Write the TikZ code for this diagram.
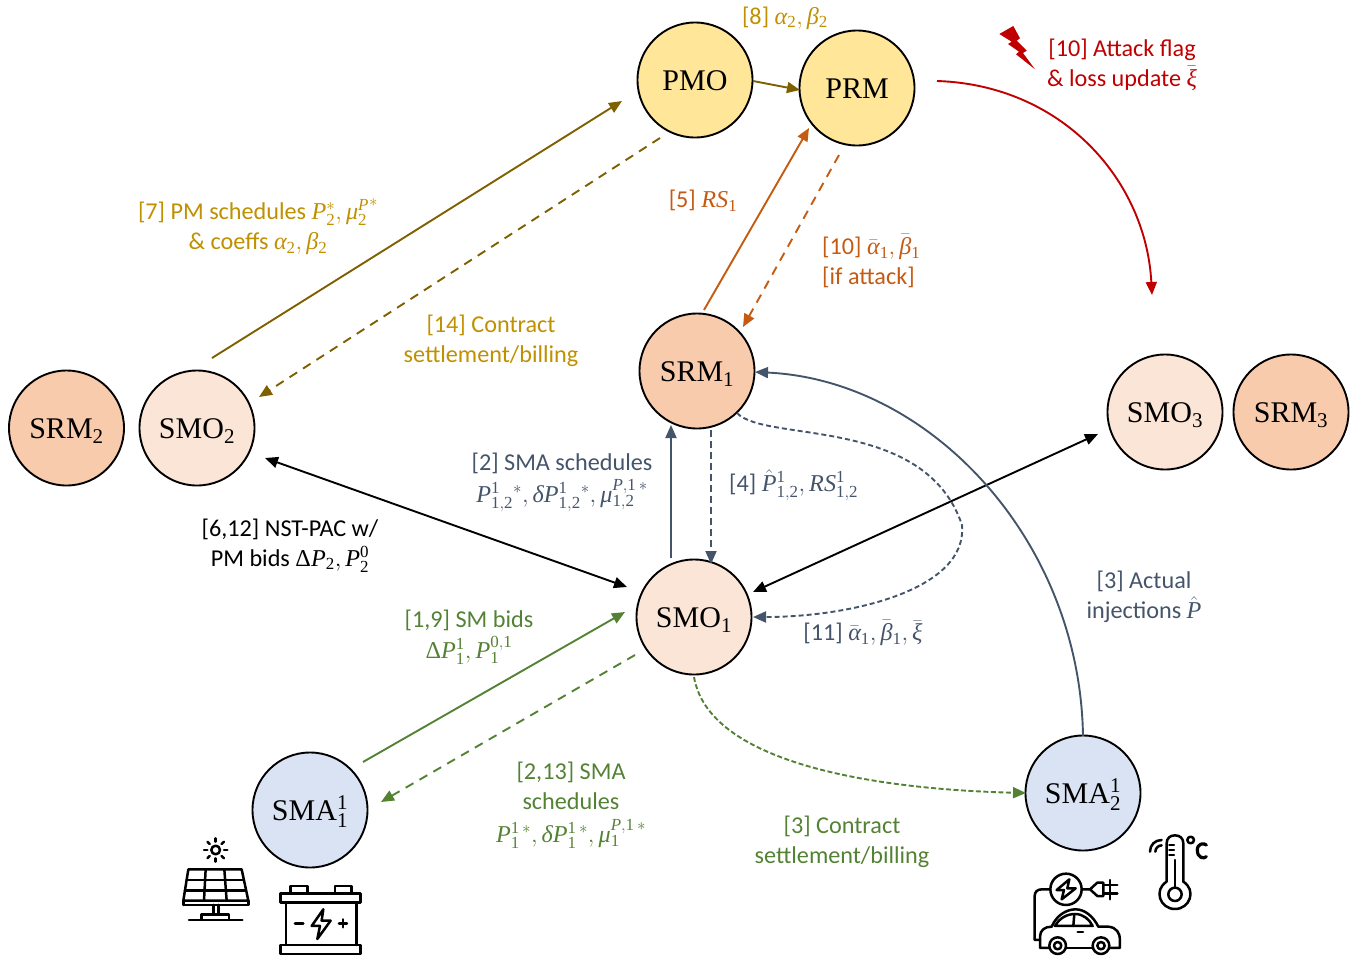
\RequirePackage{fix-cm}
\documentclass[tikz,border=0pt]{standalone}
\usepackage{fontspec}
\setmainfont{Carlito}
\newfontfamily\nodefont[NFSSFamily=lsf]{Liberation Serif}
\DeclareSymbolFont{lsi}{TU}{lsf}{m}{it}
\DeclareSymbolFont{lsr}{TU}{lsf}{m}{n}
\AtBeginDocument{%
  \Umathcode`P="7 \symlsi `P
  \Umathcode`R="7 \symlsi `R
  \Umathcode`S="7 \symlsi `S
  \Umathcode`0="0 \symlsr `0
  \Umathcode`1="0 \symlsr `1
  \Umathcode`2="0 \symlsr `2
  \Umathcode`3="0 \symlsr `3
  \Umathchardef\alpha="0 \symlsi "03B1
  \Umathchardef\beta="0 \symlsi "03B2
  \Umathchardef\delta="0 \symlsi "03B4
  \Umathchardef\mu="0 \symlsi "03BC
  \Umathchardef\xi="0 \symlsi "03BE
  \Umathchardef\Delta="0 \symlsr "0394
}
\usetikzlibrary{arrows.meta}
\definecolor{gold}{HTML}{BF9000}
\definecolor{brownline}{HTML}{7F6000}
\definecolor{orangeline}{HTML}{C55A11}
\definecolor{redline}{HTML}{C00000}
\definecolor{navyline}{HTML}{44546A}
\definecolor{greenline}{HTML}{548235}
\definecolor{pmfill}{HTML}{FFE699}
\definecolor{srfill}{HTML}{F8CBAD}
\definecolor{sofill}{HTML}{FBE5D6}
\definecolor{safill}{HTML}{DAE3F3}
\tikzset{
  x=1pt,y=-1pt,
  >={Triangle[length=13pt,width=11pt]},
  agent/.style={circle,draw=black,line width=1.9pt,minimum size=115pt,inner sep=0pt,text height=21pt,text depth=0pt,font=\nodefont\fontsize{30}{34}\selectfont},
  pm/.style={agent,fill=pmfill},
  sr/.style={agent,fill=srfill},
  so/.style={agent,fill=sofill},
  sa/.style={agent,fill=safill},
  lab/.style={align=center,inner sep=0pt,font=\fontsize{24.2}{30}\selectfont},
  labl/.style={lab,align=left,anchor=west},
  link/.style={line width=1.9pt},
  icon/.style={draw=black,line width=2.5pt,line join=round,line cap=round},
}
\newcommand{\off}[3]{([shift={(#2,#3)}]#1.center)}
\begin{document}
\begin{tikzpicture}
\useasboundingbox (0,0) rectangle (1361,959);
% nodes
\node[pm] (pmo) at (695,80) {PMO};
\node[pm] (prm) at (857,88) {PRM};
\node[sr] (srm1) at (697,371) {SRM$_1$};
\node[sr] (srm2) at (66.5,428) {SRM$_2$};
\node[so] (smo2) at (197,428) {SMO$_2$};
\node[so] (smo3) at (1165,412) {SMO$_3$};
\node[sr] (srm3) at (1291,412) {SRM$_3$};
\node[so] (smo1) at (694,617) {SMO$_1$};
\node[sa] (sma1) at (310,810) {SMA$_1^1$};
\node[sa] (sma2) at (1083,793) {SMA$_2^1$};
% connectors
\draw[link,brownline,->] \off{smo2}{15}{-70} -- \off{pmo}{-73}{21};
\draw[link,brownline,dashed,dash pattern=on 9pt off 7pt,->] \off{pmo}{-35}{58} -- \off{smo2}{62}{-31};
\draw[link,brownline,->] \off{pmo}{58}{1} -- \off{prm}{-57}{2};
\draw[link,orangeline,->] \off{srm1}{7}{-61} -- \off{prm}{-48}{40};
\draw[link,orangeline,dashed,dash pattern=on 9pt off 7pt,->] \off{prm}{-18}{67} -- \off{srm1}{46}{-44};
\draw[link,redline,->] \off{prm}{80}{-7} .. controls +(125,4) and +(-6,-115) .. (1152,295);
\draw[link,black,<->] \off{smo2}{68}{30} -- \off{smo1}{-67}{-30};
\draw[link,black,<->] \off{smo3}{-67}{22} -- \off{smo1}{59}{-25};
\draw[link,greenline,->] \off{sma1}{53}{-48} -- \off{smo1}{-69}{-5};
\draw[link,greenline,dashed,dash pattern=on 9pt off 7pt,->] \off{smo1}{-59}{38} -- \off{sma1}{71}{-8};
\draw[link,navyline,->] \off{smo1}{-23}{-59} -- \off{srm1}{-26}{54};
\draw[link,navyline,dashed,dash pattern=on 7pt off 4pt,->] \off{srm1}{14}{59} -- \off{smo1}{17}{-53};
\draw[link,navyline,dashed,dash pattern=on 5pt off 3pt,->] \off{srm1}{40}{42} .. controls +(28,30) and (925,415) .. (962,525) .. controls (968,590) and (850,617) .. \off{smo1}{59}{0};
\draw[link,navyline,->] \off{sma2}{0}{-57} .. controls (1080,540) and (930,380) .. \off{srm1}{58}{1};
\draw[link,greenline,dashed,dash pattern=on 5pt off 2.5pt,->] \off{smo1}{0}{60} .. controls +(16,93) and (900,790) .. \off{sma2}{-57}{0};
% lightning
\path[fill=redline] (999.3,34) -- (1013.3,26) -- (1020,38.3) -- (1016.7,40.7) -- (1026.7,50.7) -- (1023,53) -- (1035,69.3) -- (1016,54.3) -- (1019,51.7) -- (1008,44) -- (1011.7,41.7) -- cycle;
% labels
\node[lab,gold] (l8) at (785,18) {[8] $\alpha_2,\beta_2$};
\node[lab,redline] (l10a) at (1122,64.5) {[10] Attack flag\\\& loss update $\bar{\xi}$};
\node[lab,gold] (l7) at (258,226.5) {[7] PM schedules $P_2^*,{\mu_2^{P}}^{*}$\\\& coeffs $\alpha_2,\beta_2$};
\node[lab,orangeline] (l5) at (703,201) {[5] $RS_1$};
\node[labl,orangeline] (l10b) at (822,261) {[10] $\bar\alpha_1,\bar\beta_1$\\{}[if attack]};
\node[lab,gold] (l14) at (491,340.5) {[14] Contract\\settlement/billing};
\node[lab,navyline] (l2) at (562,482) {[2] SMA schedules\\[2pt]$P_{1,2}^{1}{}^{*},\delta P_{1,2}^{1}{}^{*},\mu_{1,2}^{P,1\,*}$};
\node[labl,navyline] (l4) at (729,485) {[4] $\hat P_{1,2}^{1},RS_{1,2}^{1}$};
\node[lab,black] (l6) at (290,545.5) {[6,12] NST-PAC w/\\PM bids $\Delta P_2,P_2^0$};
\node[lab,greenline] (l19) at (469,637.5) {[1,9] SM bids\\[1pt]$\Delta P_1^1,P_1^{0,1}$};
\node[lab,navyline] (l11) at (863,633) {[11] $\bar\alpha_1,\bar\beta_1,\bar\xi$};
\node[lab,navyline] (l3a) at (1144,597) {[3] Actual\\injections $\hat P$};
\node[lab,greenline] (l213) at (571,805) {[2,13] SMA\\schedules\\[3pt]$P_1^{1\,*},\delta P_1^{1\,*},\mu_1^{P,1\,*}$};
\node[lab,greenline] (l3b) at (842,842) {[3] Contract\\settlement/billing};
% solar panel and battery icons
\begin{scope}[shift={(160,740)},x=0.3333pt,y=-0.3333pt]
  \draw[icon] (167,330) circle (13);
  \foreach \a in {0,45,...,315} \draw[icon] (167,330) ++(\a:25) -- ++(\a:10);
  \draw[icon] (85,388) -- (245,388) -- (265,482) -- (70,482) -- cycle;
  \draw[icon] (70,495) -- (265,495) -- (265,482) (70,495) -- (70,482);
  \draw[icon] (80,420) -- (252,420) (75,452) -- (258,452);
  \draw[icon] (137,388) -- (132,482) (193,388) -- (200,482);
  \draw[icon] (160,495) -- (160,523) (175,495) -- (175,523);
  \draw[icon] (125,538) -- (125,523) -- (207,523) -- (207,538);
  \draw[icon] (87,540) -- (247,540);
  \draw[icon] (362,460) rectangle (602,488);
  \draw[icon] (362,615) rectangle (602,642);
  \draw[icon] (378,488) -- (378,615) (590,488) -- (590,615);
  \draw[icon] (392,460) -- (392,438) -- (443,438) -- (443,460);
  \draw[icon] (525,460) -- (525,438) -- (575,438) -- (575,460);
  \draw[icon] (490,508) -- (455,558) -- (480,558) -- (472,597) -- (512,542) -- (485,542) -- cycle;
  \draw[icon] (405,550) -- (430,550) (537,550) -- (561,550) (549,538) -- (549,562);
\end{scope}
% car and thermometer icons
\begin{scope}[shift={(1010,810)},x=0.3333pt,y=-0.3333pt]
  \draw[icon] (168,238) circle (47);
  \draw[icon] (178,208) -- (140,240) -- (162,240) -- (155,268) -- (197,235) -- (172,235) -- cycle;
  \draw[icon] (215,238) -- (240,238) -- (262,218) -- (280,218) -- (280,258) -- (262,258) -- (240,238);
  \draw[icon] (280,225) -- (322,225) (280,250) -- (322,250) (300,210) -- (300,268);
  \draw[icon] (121,238) -- (95,238) .. controls (82,238) and (74,246) .. (74,258) -- (74,390) -- (90,390);
  \draw[icon] (118,414) -- (90,414) -- (90,380) .. controls (90,360) and (105,350) .. (125,350) .. controls (140,315) and (170,298) .. (197,298) .. controls (225,298) and (250,320) .. (265,350) -- (295,350) .. controls (320,352) and (330,370) .. (330,390) -- (330,414) -- (298,414);
  \draw[icon] (168,414) -- (248,414);
  \draw[icon] (135,348) .. controls (148,325) and (170,312) .. (195,312) .. controls (220,312) and (238,328) .. (248,348) -- cycle;
  \draw[icon] (193,312) -- (190,348);
  \draw[icon] (203,366) -- (219,366);
  \draw[icon] (143,407) circle (25) (143,407) circle (11);
  \draw[icon] (273,407) circle (25) (273,407) circle (11);
  \draw[icon] (470,215) -- (470,100) .. controls (470,85) and (480,76) .. (495,76) .. controls (510,76) and (520,85) .. (520,100) -- (520,215) .. controls (560,240) and (540,297) .. (495,297) .. controls (450,297) and (430,240) .. (470,215);
  \draw[icon] (495,253) circle (20);
  \draw[icon] (495,150) -- (495,233);
  \draw[icon] (478,105) -- (492,105) (478,120) -- (492,120) (478,135) -- (492,135);
  \draw[icon] (542,90) circle (10);
  \draw[icon,line width=3.2pt] (589,105) .. controls (582,98) and (562,100) .. (562,120) .. controls (562,145) and (582,147) .. (589,140);
  \draw[icon] (420,125) .. controls (420,105) and (435,90) .. (455,90);
  \draw[icon] (436,125) .. controls (436,115) and (445,106) .. (455,106);
\end{scope}
\end{tikzpicture}
\end{document}
